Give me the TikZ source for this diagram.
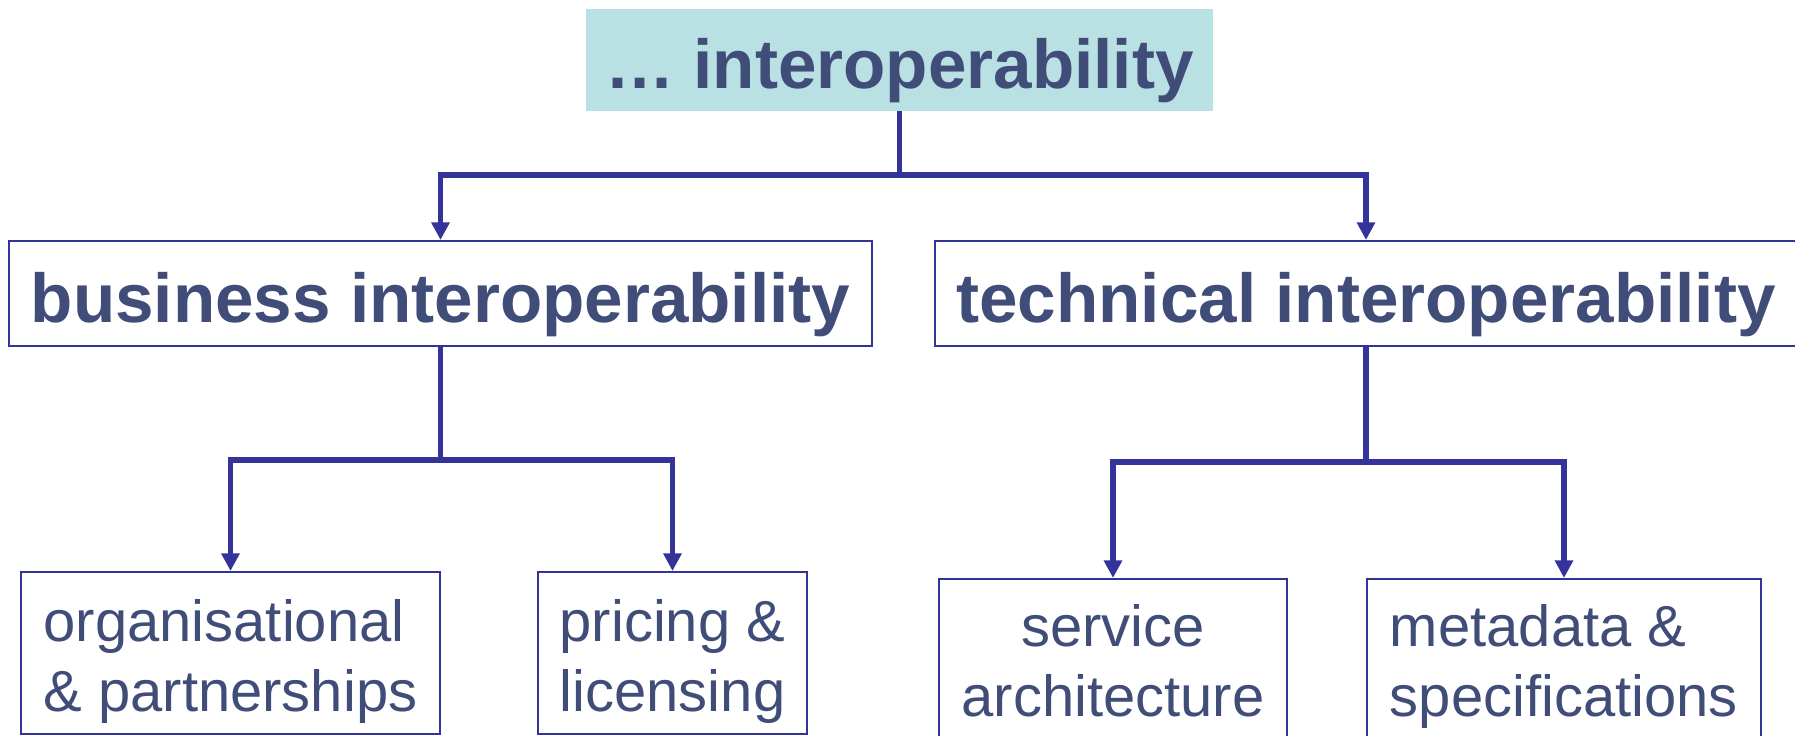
\documentclass[tikz,border=0pt]{standalone}
\usepackage{fontspec}
\setmainfont{Liberation Sans}
\usetikzlibrary{arrows.meta}
\definecolor{boxtext}{RGB}{64,77,120}
\definecolor{lineblue}{RGB}{51,51,153}
\definecolor{headfill}{RGB}{185,224,227}
\newcommand{\upstrut}{\rule{0pt}{34pt}}
\newcommand{\downstrut}{\rule[-7pt]{0pt}{7pt}}
\tikzstyle{head}=[fill=headfill,text=boxtext,font=\fontsize{39.4}{47}\selectfont\bfseries,text height=32.5pt,text depth=0pt,minimum width=12.54cm,minimum height=2.04cm]
\tikzstyle{area}=[draw=lineblue,line width=1.2pt,text=boxtext,font=\fontsize{39.4}{47}\selectfont\bfseries,text height=32.5pt,text depth=0pt,minimum height=2.1cm]
\tikzstyle{topic}=[draw=lineblue,line width=1.2pt,text=boxtext,font=\fontsize{33}{40}\selectfont,align=left]
\tikzstyle{branch}=[draw=lineblue,line width=3pt]
\tikzstyle{branchto}=[branch,-{Triangle[length=10pt,width=10pt]}]

\begin{document}
\begin{tikzpicture}[x=0.02cm,y=-0.02cm]
  \useasboundingbox (0,0) rectangle (1795,736);
  \node[head] (top) at (899.5,60) {… interoperability};
  \node[area,minimum width=17.26cm] (business) at (440.5,293.5) {business interoperability};
  \node[area,minimum width=17.24cm] (technical) at (1366,293.5) {technical interoperability};
  \node[topic,minimum width=8.38cm,minimum height=3.24cm] (org) at (230.5,653)
    {\upstrut organisational\\ \& partnerships\downstrut};
  \node[topic,minimum width=5.38cm,minimum height=3.24cm] (pricing) at (672.5,653)
    {\upstrut pricing \&\\ licensing\downstrut};
  \node[topic,align=center,minimum width=6.96cm,minimum height=3.16cm] (service) at (1113,658)
    {\upstrut service\\ architecture\downstrut};
  \node[topic,minimum width=7.88cm,minimum height=3.16cm] (metadata) at (1564,658)
    {\upstrut metadata \&\\ specifications\downstrut};
  \coordinate (split) at (899.5,175);
  \coordinate (bsplit) at (440.5,460);
  \coordinate (tsplit) at (1366,462);
  \draw[branch] (top.south) -- (split);
  \draw[branchto] (split) -| (business.north);
  \draw[branchto] (split) -| (technical.north);
  \draw[branch] (business.south) -- (bsplit);
  \draw[branchto] (bsplit) -| (org.north);
  \draw[branchto] (bsplit) -| (pricing.north);
  \draw[branch] (technical.south) -- (tsplit);
  \draw[branchto] (tsplit) -| (service.north);
  \draw[branchto] (tsplit) -| (metadata.north);
\end{tikzpicture}
\end{document}
